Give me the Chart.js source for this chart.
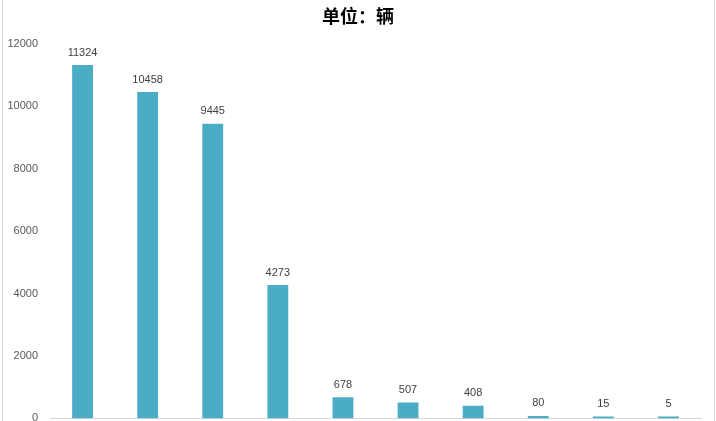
<!DOCTYPE html>
<html lang="zh">
<head>
    <meta charset="UTF-8">
    <title>单位：辆</title>
    <style>
        html, body { margin: 0; padding: 0; background: #fff; }
        .wrap { position: relative; width: 716px; height: 421px; overflow: hidden; }
    </style>
</head>
<body>
    <div class="wrap">
        <canvas id="barChart" width="716" height="429"></canvas>
    </div>
    <script src="https://cdn.jsdelivr.net/npm/chart.js"></script>
    <script>
        // values
        const categories = ['1', '2', '3', '4', '5', '6', '7', '8', '9', '10'];
        const sales = [11324, 10458, 9445, 4273, 678, 507, 408, 80, 15, 5];
        const yTicks = [0, 2000, 4000, 6000, 8000, 10000, 12000];
        const subtitle = '单位：辆';

        const barColor = '#4BACC6';
        const textColor = '#595959';

        // frame lines + subtitle
        const framePlugin = {
            id: 'frame',
            beforeDraw(chart) {
                const ctx = chart.ctx;
                ctx.save();
                ctx.fillStyle = '#fff';
                ctx.fillRect(0, 0, chart.width, chart.height);
                ctx.strokeStyle = '#d9d9d9';
                ctx.lineWidth = 1;
                ctx.beginPath();
                ctx.moveTo(2.5, 0); ctx.lineTo(2.5, chart.height);
                ctx.moveTo(714.5, 0); ctx.lineTo(714.5, chart.height);
                ctx.stroke();
                ctx.fillStyle = '#000';
                ctx.font = 'bold 18px "Noto Sans CJK SC"';
                ctx.textAlign = 'center';
                ctx.textBaseline = 'middle';
                ctx.fillText(subtitle, 358, 16);
                ctx.restore();
            }
        };

        // value labels above bars
        const valueLabels = {
            id: 'valueLabels',
            afterDatasetsDraw(chart) {
                const ctx = chart.ctx;
                const meta = chart.getDatasetMeta(0);
                ctx.save();
                ctx.fillStyle = '#404040';
                ctx.font = '11px "Liberation Sans"';
                ctx.textAlign = 'center';
                ctx.textBaseline = 'bottom';
                meta.data.forEach((bar, i) => {
                    ctx.fillText(sales[i], bar.x, bar.y - 7);
                });
                ctx.restore();
            }
        };

        new Chart(document.getElementById('barChart'), {
            type: 'bar',
            data: {
                labels: categories,
                datasets: [{
                    data: sales,
                    backgroundColor: barColor,
                    barPercentage: 0.32,
                    categoryPercentage: 1,
                    minBarLength: 2
                }]
            },
            options: {
                responsive: false,
                animation: false,
                layout: { padding: { top: 44, left: 0, right: 15, bottom: 3 } },
                plugins: {
                    legend: { display: false },
                    tooltip: { enabled: false }
                },
                scales: {
                    x: {
                        afterFit(scale) { scale.height = 0; },
                        grid: { display: false, drawTicks: false },
                        ticks: { display: false },
                        border: { color: '#d9d9d9' }
                    },
                    y: {
                        min: 0,
                        max: 12000,
                        afterFit(scale) { scale.width = 50; },
                        afterBuildTicks(scale) { scale.ticks = yTicks.map(v => ({ value: v })); },
                        grid: { display: false },
                        border: { display: false },
                        ticks: {
                            color: textColor,
                            font: { family: 'Liberation Sans', size: 11 },
                            padding: 4,
                            callback: v => String(v)
                        }
                    }
                }
            },
            plugins: [framePlugin, valueLabels]
        });
    </script>
</body>
</html>
